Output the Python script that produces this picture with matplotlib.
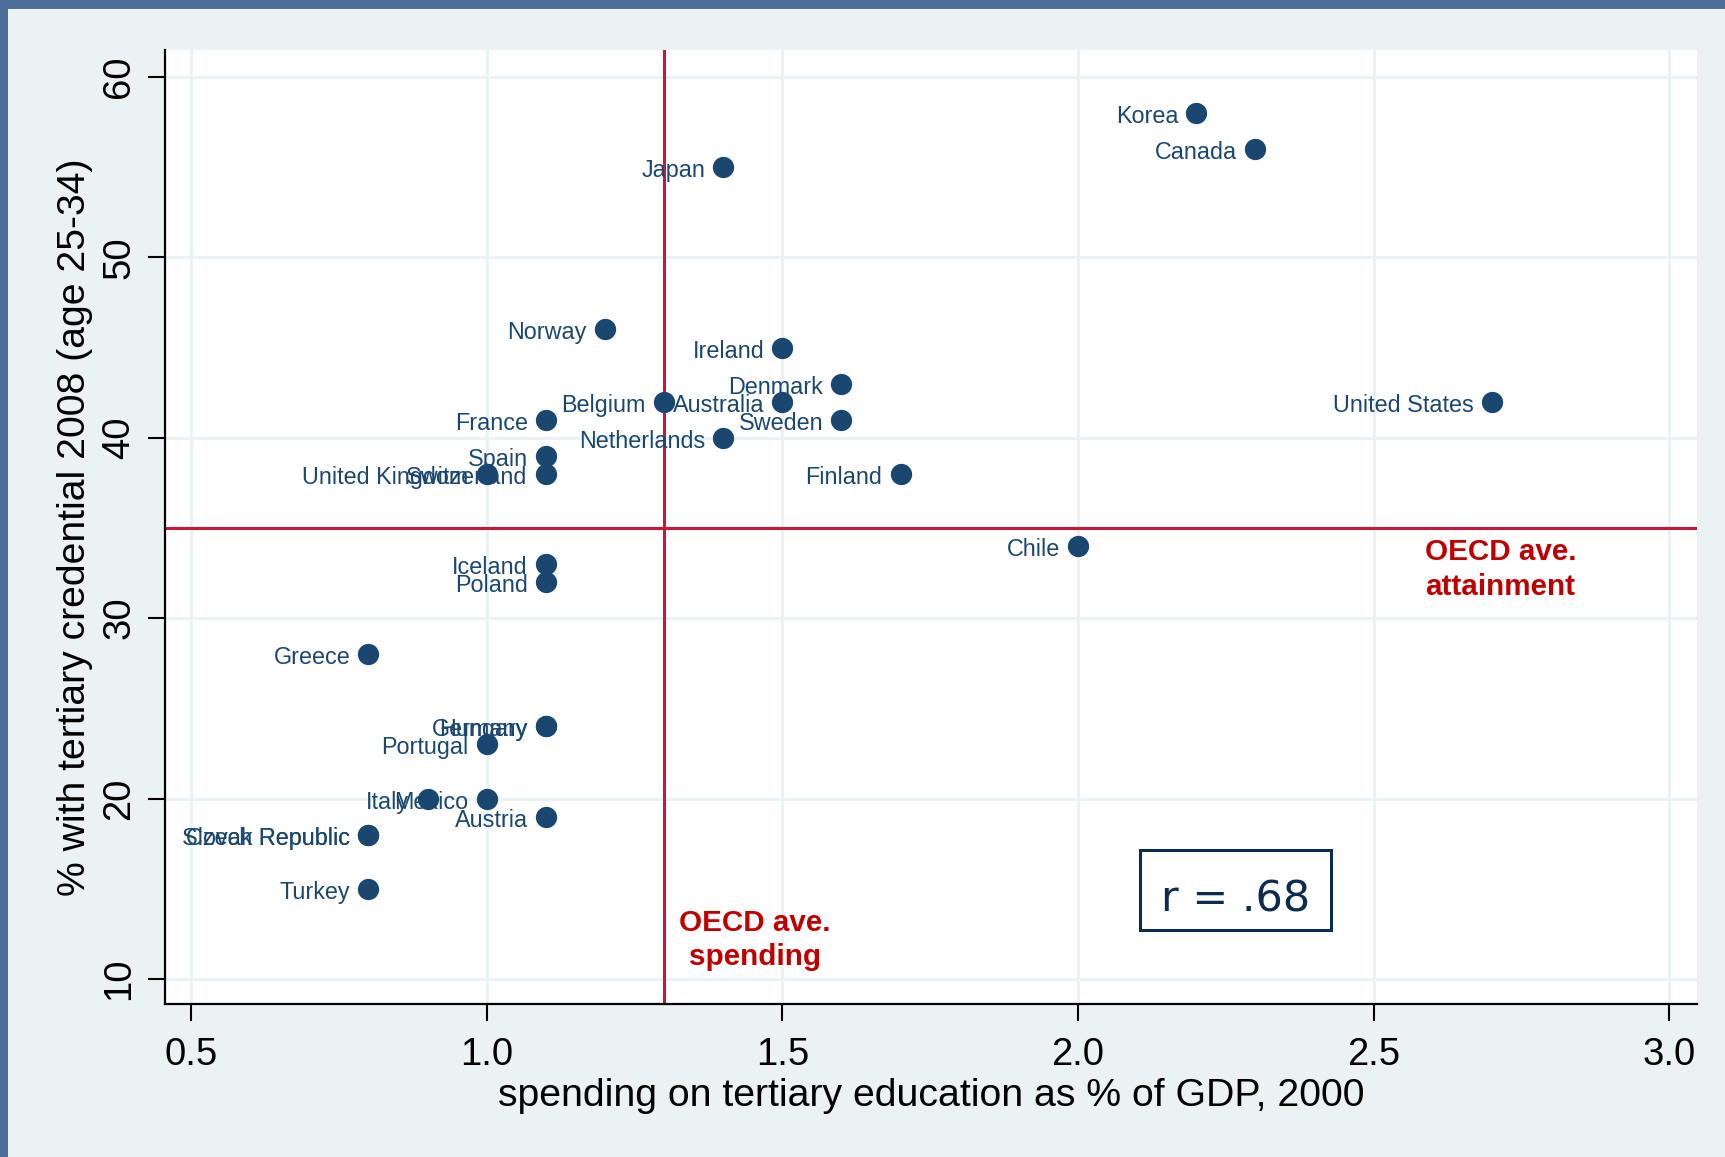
import matplotlib
matplotlib.use("Agg")
import matplotlib.pyplot as plt
from matplotlib.patches import Rectangle

plt.rcParams['font.family'] = ['Liberation Sans', 'DejaVu Sans']

# ---- data ----
countries = ["Korea", "Canada", "Japan", "Norway", "Ireland", "Denmark", "Belgium",
             "Australia", "United States", "France", "Sweden", "Netherlands", "Spain",
             "United Kingdom", "Switzerland", "Finland", "Chile", "Iceland", "Poland",
             "Greece", "Germany", "Hungary", "Portugal", "Italy", "Mexico", "Austria",
             "Slovak Republic", "Czech Republic", "Turkey"]
spending = [2.2, 2.3, 1.4, 1.2, 1.5, 1.6, 1.3,
            1.5, 2.7, 1.1, 1.6, 1.4, 1.1,
            1.0, 1.1, 1.7, 2.0, 1.1, 1.1,
            0.8, 1.1, 1.1, 1.0, 0.9, 1.0, 1.1,
            0.8, 0.8, 0.8]
attainment = [58, 56, 55, 46, 45, 43, 42,
              42, 42, 41, 41, 40, 39,
              38, 38, 38, 34, 33, 32,
              28, 24, 24, 23, 20, 20, 19,
              18, 18, 15]
oecd_spending = 1.3
oecd_attainment = 35
r_text = "r = .68"
x_ticks = [0.5, 1.0, 1.5, 2.0, 2.5, 3.0]
x_ticklabels = ["0.5", "1.0", "1.5", "2.0", "2.5", "3.0"]
y_ticks = [10, 20, 30, 40, 50, 60]
y_ticklabels = ["10", "20", "30", "40", "50", "60"]

NAVY = "#1a476f"
RED_LINE = "#c8173a"
RED_TEXT = "#c00000"
BG = "#eaf2f3"

W, H = 1725, 1157
fig = plt.figure(figsize=(W / 100, H / 100), dpi=100)
fig.patch.set_facecolor("#4d6e98")
fig.add_artist(Rectangle((8 / W, 0), 1, (H - 9) / H, transform=fig.transFigure,
                         facecolor=BG, edgecolor="none", zorder=-5))

ax = fig.add_axes([165 / W, (H - 1004) / H, (1697 - 165) / W, (1004 - 49.5) / H])
ax.set_facecolor("white")
ax.set_xlim(0.456, 3.047)
ax.set_ylim(8.61, 61.52)

for s in ["top", "right"]:
    ax.spines[s].set_visible(False)
for s in ["left", "bottom"]:
    ax.spines[s].set_linewidth(1.6)
    ax.spines[s].set_color("black")

ax.set_xticks(x_ticks)
ax.set_xticklabels(x_ticklabels)
ax.set_yticks(y_ticks)
ax.set_yticklabels(y_ticklabels, rotation=90, va="center")
ax.tick_params(axis="both", length=12, width=1.5, direction="out", labelsize=27.5,
               colors="black")
ax.tick_params(axis="x", pad=12)
ax.tick_params(axis="y", pad=8)

ax.grid(True, color=BG, linewidth=2.2)
ax.set_axisbelow(True)

ax.axvline(oecd_spending, color=RED_LINE, lw=2.2, zorder=2)
ax.axhline(oecd_attainment, color=RED_LINE, lw=2.2, zorder=2)

ax.scatter(spending, attainment, s=235, color=NAVY, zorder=4, linewidths=0)
for name, x, y in zip(countries, spending, attainment):
    ax.annotate(name, (x, y), xytext=(-13, -7.2), textcoords="offset points",
                ha="right", va="baseline", fontsize=16.8, color=NAVY, zorder=5)

ax.set_xlabel("spending on tertiary education as % of GDP, 2000", fontsize=28.3,
              labelpad=3)
ax.set_ylabel("% with tertiary credential 2008 (age 25-34)", fontsize=28.2, labelpad=6)

# OECD annotations
ax.text(2.587, 33.23, "OECD ave.", color=RED_TEXT, fontsize=21.3, fontweight="bold",
        ha="left", va="baseline", zorder=5)
ax.text(2.587, 31.29, "attainment", color=RED_TEXT, fontsize=21.3, fontweight="bold",
        ha="left", va="baseline", zorder=5)
ax.text(1.454, 12.68, "OECD ave.", color=RED_TEXT, fontsize=21.3, fontweight="bold",
        ha="center", va="baseline", zorder=5)
ax.text(1.454, 10.78, "spending", color=RED_TEXT, fontsize=21.3, fontweight="bold",
        ha="center", va="baseline", zorder=5)

# r box
bx0, by0, bw, bh = (1140 - 165) / 1532, (1004 - 930) / 954.5, 191 / 1532, 80 / 954.5
ax.add_patch(Rectangle((bx0, by0), bw, bh, transform=ax.transAxes, facecolor="white",
                       edgecolor="#0d2b4e", linewidth=2.2, zorder=6))
ax.text(bx0 + bw / 2, by0 + 19 / 954.5, r_text, transform=ax.transAxes, fontsize=31,
        color="#0d2b4e", ha="center", va="baseline", family=["DejaVu Sans"],
        zorder=7)

fig.savefig("out.png", dpi=100, facecolor=fig.get_facecolor())
